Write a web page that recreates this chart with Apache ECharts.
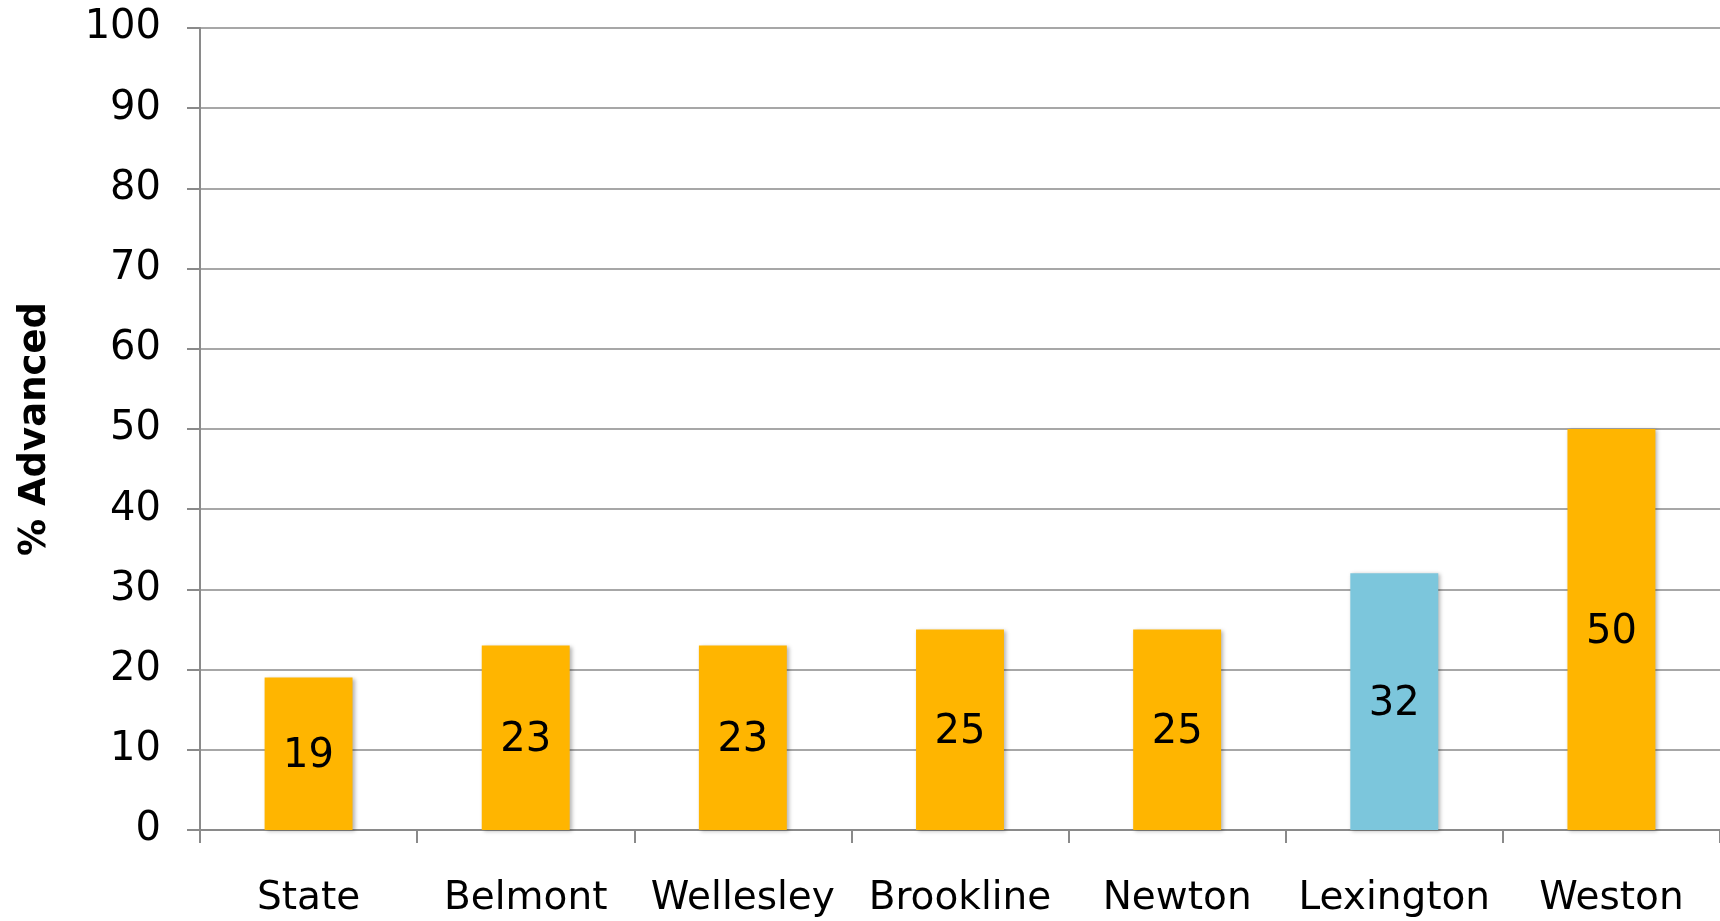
<!DOCTYPE html>
<html>
<head>
<meta charset="utf-8">
<script src="https://cdn.jsdelivr.net/npm/echarts@6/dist/echarts.min.js"></script>
<style>
html,body{margin:0;padding:0;background:#fff;}
#chart{width:1720px;height:921px;}
</style>
</head>
<body>
<div id="chart"></div>
<script>
const categories = ['State', 'Belmont', 'Wellesley', 'Brookline', 'Newton', 'Lexington', 'Weston'];
const values = [19, 23, 23, 25, 25, 32, 50];
const barColors = ['#FFB500', '#FFB500', '#FFB500', '#FFB500', '#FFB500', '#7CC6DC', '#FFB500'];
const yTicks = { min: 0, max: 100, interval: 10 };
const yTitle = '% Advanced';

const font = 'DejaVu Sans';
const chart = echarts.init(document.getElementById('chart'), null, { renderer: 'canvas' });
chart.setOption({
  animation: false,
  grid: { left: 200, right: 0, top: 28, bottom: 91, containLabel: false },
  xAxis: {
    type: 'category',
    data: categories,
    boundaryGap: true,
    axisLine: { lineStyle: { color: '#8a8a8a', width: 2 } },
    axisTick: { show: true, interval: 0, length: 13, lineStyle: { color: '#8a8a8a', width: 2 } },
    axisLabel: { interval: 0, color: '#000', fontFamily: font, fontSize: 39, lineHeight: 39, margin: 49 }
  },
  yAxis: {
    type: 'value',
    min: yTicks.min, max: yTicks.max, interval: yTicks.interval,
    name: yTitle,
    nameLocation: 'middle',
    nameGap: 146,
    nameTextStyle: { color: '#000', fontFamily: font, fontSize: 37, fontWeight: 'bold' },
    axisLine: { show: true, lineStyle: { color: '#8a8a8a', width: 2 } },
    axisTick: { show: true, length: 13, lineStyle: { color: '#8a8a8a', width: 2 } },
    axisLabel: { color: '#000', fontFamily: font, fontSize: 40, margin: 39 },
    splitLine: { show: true, lineStyle: { color: '#8a8a8a', width: 1.5 } }
  },
  series: [{
    type: 'bar',
    data: values.map((v, i) => ({ value: v, itemStyle: { color: barColors[i] } })),
    barWidth: '40.5%',
    itemStyle: { shadowColor: 'rgba(0,0,0,0.3)', shadowBlur: 4, shadowOffsetX: 2, shadowOffsetY: 1 },
    label: { show: true, position: 'inside', offset: [0, 3], color: '#000', fontFamily: font, fontSize: 40 }
  }]
});
</script>
</body>
</html>
